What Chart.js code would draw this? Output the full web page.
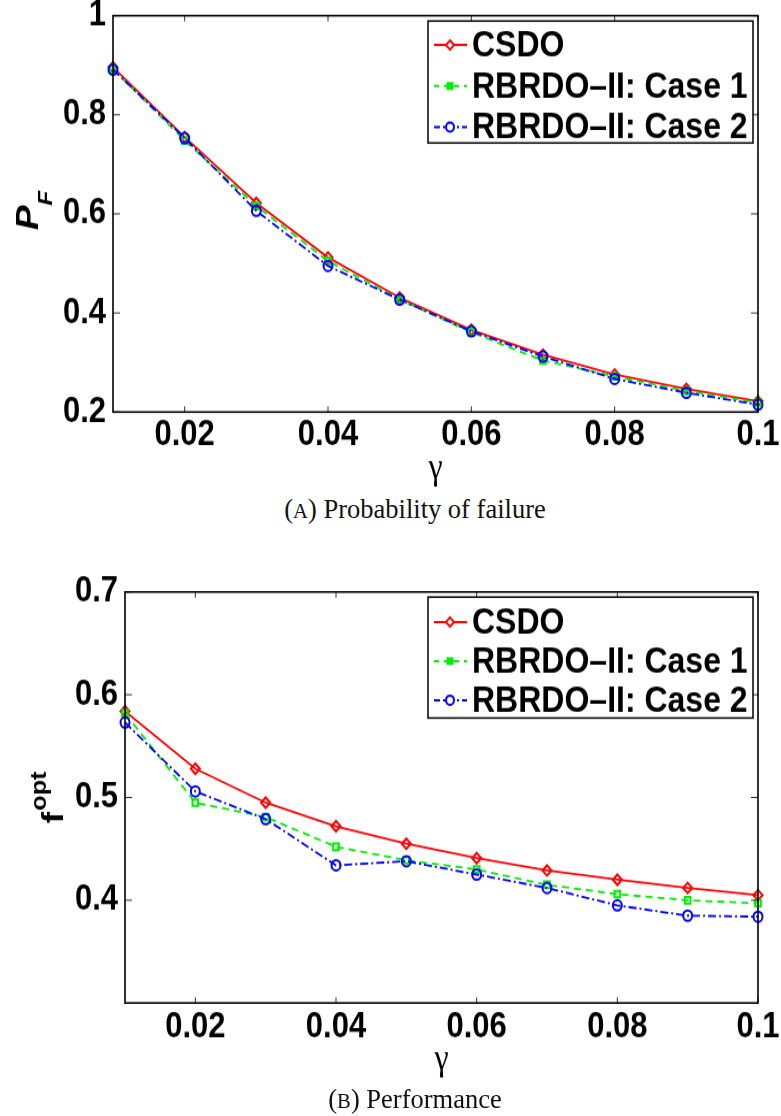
<!DOCTYPE html>
<html>
<head>
<meta charset="utf-8">
<script src="https://cdn.jsdelivr.net/npm/chart.js@4/dist/chart.umd.min.js"></script>
<style>
  body { margin: 0; background: #fff; width: 781px; height: 1116px; position: relative; overflow: hidden; }
  .wrap { position: absolute; left: 0; width: 781px; transform: scaleY(1.15); transform-origin: 0 0; }
  .cap { position: absolute; left: 0; width: 830px; text-align: center; line-height: 30px;
         font-family: "Liberation Serif", "DejaVu Serif", serif; font-size: 26.5px; color: #111; }
  .sc { font-size: 0.78em; }
</style>
</head>
<body>
<div class="wrap" style="top:0"><canvas id="pfChart" width="781" height="429"></canvas></div>
<div class="cap" style="top:494px">(<span class="sc">A</span>) Probability of failure</div>
<div class="wrap" style="top:560px"><canvas id="foptChart" width="781" height="456"></canvas></div>
<div class="cap" style="top:1084px">(<span class="sc">B</span>) Performance</div>
<script>
const gamma = [0.01, 0.02, 0.03, 0.04, 0.05, 0.06, 0.07, 0.08, 0.09, 0.1];
const seriesNames = ['CSDO', 'RBRDO\u2013II: Case 1', 'RBRDO\u2013II: Case 2'];

const pfCsdo  = [0.896, 0.755, 0.622, 0.512, 0.431, 0.366, 0.316, 0.276, 0.247, 0.222];
const pfCase1 = [0.892, 0.748, 0.616, 0.505, 0.427, 0.361, 0.304, 0.272, 0.243, 0.219];
const pfCase2 = [0.891, 0.753, 0.606, 0.495, 0.427, 0.363, 0.312, 0.267, 0.239, 0.215];

const foptCsdo  = [0.584, 0.528, 0.495, 0.472, 0.455, 0.441, 0.429, 0.420, 0.412, 0.405];
const foptCase1 = [0.582, 0.495, 0.481, 0.452, 0.439, 0.430, 0.415, 0.406, 0.400, 0.397];
const foptCase2 = [0.573, 0.506, 0.479, 0.434, 0.438, 0.425, 0.412, 0.395, 0.385, 0.384];

const xTicks = [0.02, 0.04, 0.06, 0.08, 0.1];
const pfTicks = [0.2, 0.4, 0.6, 0.8, 1];
const foptTicks = [0.4, 0.5, 0.6, 0.7];

const styles = [
    { color: '#ff0000', point: 'rectRot', dash: [], radius: 4.5, fill: '#fff' },
    { color: '#00ee00', point: 'rect', dash: [7, 5], radius: 4, fill: '#00ee00' },
    { color: '#0000ff', point: 'circle', dash: [8, 3, 2, 3], radius: 4.5, fill: '#fff' }
];

const sansBold = '"Liberation Sans", Arial, sans-serif';
const boldFont = { family: sansBold, size: 31, weight: 'bold' };

function toPoints(values) {
    return values.map((v, i) => ({ x: gamma[i], y: v }));
}

// box + inward ticks like matlab
const frame = {
    id: 'frame',
    afterDatasetsDraw(chart) {
        const { ctx, chartArea: a, scales } = chart;
        ctx.save();
        ctx.strokeStyle = '#333';
        ctx.lineWidth = 1;
        ctx.beginPath();
        scales.x.ticks.forEach(t => {
            const px = scales.x.getPixelForValue(t.value);
            ctx.moveTo(px, a.bottom); ctx.lineTo(px, a.bottom - 5);
            ctx.moveTo(px, a.top); ctx.lineTo(px, a.top + 5);
        });
        scales.y.ticks.forEach(t => {
            const py = scales.y.getPixelForValue(t.value);
            ctx.moveTo(a.left, py); ctx.lineTo(a.left + 7, py);
            ctx.moveTo(a.right, py); ctx.lineTo(a.right - 7, py);
        });
        ctx.stroke();
        ctx.strokeStyle = '#000';
        ctx.lineWidth = 1.6;
        ctx.strokeRect(a.left, a.top, a.right - a.left, a.bottom - a.top);
        ctx.restore();
    }
};

const boxLegend = {
    id: 'boxLegend',
    afterDraw(chart, args, opts) {
        const { ctx } = chart;
        const b = opts.box;
        ctx.save();
        ctx.fillStyle = '#fff';
        ctx.fillRect(b.x, b.y, b.w, b.h);
        ctx.strokeStyle = '#000';
        ctx.lineWidth = 1.5;
        ctx.strokeRect(b.x, b.y, b.w, b.h);
        chart.data.datasets.forEach((ds, i) => {
            const y = b.y + opts.rowTop + i * opts.rowGap;
            const st = styles[i];
            ctx.strokeStyle = st.color;
            ctx.lineWidth = 2;
            ctx.setLineDash(i === 1 ? [5, 5] : i === 2 ? [6, 3, 2, 3] : []);
            ctx.beginPath();
            ctx.moveTo(b.x + 6, y);
            ctx.lineTo(b.x + 39, y);
            ctx.stroke();
            ctx.setLineDash([]);
            ctx.fillStyle = st.fill;
            Chart.helpers.drawPoint(ctx, {
                pointStyle: st.point, radius: st.radius - 0.5, borderWidth: 2
            }, b.x + 22, y);
            ctx.fillStyle = '#000';
            ctx.font = 'bold 32px ' + sansBold;
            ctx.textBaseline = 'middle';
            ctx.fillText(ds.label, b.x + 44, y + 1);
        });
        ctx.restore();
    }
};

const yTitle = {
    id: 'yTitle',
    afterDraw(chart, args, opts) {
        const { ctx } = chart;
        const style = opts.italic ? 'italic bold ' : 'bold ';
        ctx.save();
        ctx.translate(opts.x, opts.y);
        ctx.rotate(-Math.PI / 2);
        ctx.fillStyle = '#000';
        ctx.textBaseline = 'alphabetic';
        ctx.font = style + opts.mainSize + 'px ' + sansBold;
        ctx.fillText(opts.main, 0, 0);
        const w = ctx.measureText(opts.main).width;
        ctx.font = style + opts.subSize + 'px ' + sansBold;
        ctx.fillText(opts.sub, w + opts.subGap, opts.subShift);
        ctx.restore();
    }
};

function drawChart(canvasId, values, cfg) {
    const ctx = document.getElementById(canvasId).getContext('2d');
    new Chart(ctx, {
        type: 'line',
        data: {
            datasets: values.map((vals, i) => ({
                label: seriesNames[i],
                data: toPoints(vals),
                borderColor: styles[i].color,
                borderWidth: 1.8,
                borderDash: styles[i].dash,
                pointStyle: styles[i].point,
                pointRadius: styles[i].radius,
                pointBorderWidth: 2,
                pointBorderColor: styles[i].color,
                pointBackgroundColor: 'rgba(255,255,255,0)',
                tension: 0,
                clip: false,
                order: 3 - i
            }))
        },
        options: {
            responsive: false,
            animation: false,
            devicePixelRatio: 1,
            layout: { padding: { top: cfg.top, right: 23, left: 0, bottom: 0 } },
            scales: {
                x: {
                    type: 'linear', min: 0.01, max: 0.1,
                    afterBuildTicks: s => { s.ticks = xTicks.map(v => ({ value: v })); },
                    afterFit: s => { s.height = cfg.xHeight; s.paddingLeft = 0; s.paddingRight = 0; },
                    grid: { display: false, drawTicks: false },
                    border: { display: false },
                    ticks: { color: '#000', font: boldFont, padding: cfg.xPad, maxRotation: 0,
                             callback: v => String(v) },
                    title: { display: true, text: '\u03b3', color: '#000',
                             font: { family: '"Liberation Serif", "DejaVu Serif", serif', size: 32 },
                             padding: { top: 0, bottom: 2 } }
                },
                y: {
                    type: 'linear', min: cfg.yMin, max: cfg.yMax,
                    afterBuildTicks: s => { s.ticks = cfg.yTicks.map(v => ({ value: v })); },
                    afterFit: s => { s.width = cfg.left; s.paddingTop = 0; s.paddingBottom = 0; },
                    grid: { display: false, drawTicks: false },
                    border: { display: false },
                    ticks: { color: '#000', font: boldFont, padding: 7,
                             callback: v => String(v) }
                }
            },
            plugins: {
                legend: { display: false },
                tooltip: { enabled: false },
                boxLegend: cfg.legend,
                yTitle: cfg.yTitle
            }
        },
        plugins: [frame, boxLegend, yTitle]
    });
}

drawChart('pfChart', [pfCsdo, pfCase1, pfCase2], {
    top: 13.6, left: 113, xHeight: 429 - 358.3, xPad: 2, yMin: 0.2, yMax: 1, yTicks: pfTicks,
    legend: { box: { x: 428, y: 18.3, w: 325, h: 106 }, rowTop: 20.8, rowGap: 35.7 },
    yTitle: { x: 38, y: 200, main: 'P', mainSize: 32, sub: 'F', subSize: 21, subGap: 0, subShift: 14, italic: true }
});

drawChart('foptChart', [foptCsdo, foptCase1, foptCase2], {
    top: 27.8, left: 125, xHeight: 456 - 385.2, xPad: 3, yMin: 0.3, yMax: 0.7, yTicks: foptTicks,
    legend: { box: { x: 428, y: 32.2, w: 325, h: 105.2 }, rowTop: 21.7, rowGap: 34 },
    yTitle: { x: 63, y: 229, main: 'f', mainSize: 30, sub: 'opt', subSize: 22, subGap: 1, subShift: -17, italic: false }
});
</script>
</body>
</html>
